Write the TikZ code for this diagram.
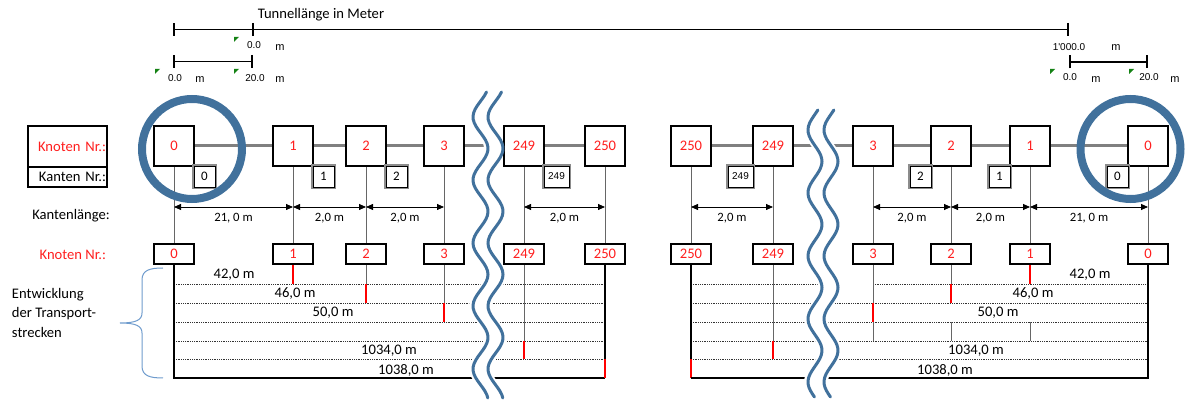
\documentclass[tikz,border=0pt]{standalone}
\usepackage{fontspec}
\setmainfont{Carlito}
\newfontfamily\arialf{Liberation Sans}
\usetikzlibrary{arrows.meta,calc}
\pgfdeclarelayer{bg}
\pgfdeclarelayer{band}
\pgfdeclarelayer{fg}
\pgfsetlayers{bg,band,main,fg}
\definecolor{ringblue}{RGB}{65,113,156}
\definecolor{bracecol}{RGB}{110,155,205}
\definecolor{kred}{RGB}{255,30,30}
\definecolor{mkgreen}{RGB}{20,130,20}
\definecolor{conngray}{RGB}{128,128,128}
\tikzset{
  big/.style={font=\fontsize{14.6}{17}\selectfont},
  knode/.style={draw=black, line width=1.6pt, fill=white, minimum width=40pt, minimum height=40pt, inner sep=0pt, text=kred, big},
  bnode/.style={knode, minimum height=20pt},
  ebox/.style={draw=black, line width=0.8pt, fill=white, minimum width=21pt, minimum height=21pt, inner sep=0pt, font=\fontsize{13}{15}\selectfont, preaction={draw=black!45, line width=4.5pt}},
  eboxw/.style={ebox, minimum width=25pt, font=\arialf\fontsize{10}{12}\selectfont},
  conn/.style={draw=conngray, line width=3pt},
  vline/.style={draw=black!60, line width=0.8pt},
  tbline/.style={draw=black, line width=1.8pt},
  redm/.style={draw=red, line width=1.6pt},
  dotl/.style={draw=black!80, line width=0.7pt, dash pattern=on 0.9pt off 0.9pt},
  dimarrow/.style={{Triangle[length=7pt,width=6pt]}-{Triangle[length=7pt,width=6pt]}, line width=0.8pt},
  dlbl/.style={font=\fontsize{12.7}{15}\selectfont},
  scalelbl/.style={font=\arialf\fontsize{10}{12}\selectfont},
  scalem/.style={font=\arialf\fontsize{11}{12}\selectfont},
  scalebar/.style={{Bar[width=13pt]}-{Bar[width=13pt]}, line width=1.7pt},
  bluering/.style={draw=ringblue, line width=8pt},
  waveline/.style={draw=ringblue, line width=3pt},
  greenmk/.style={fill=mkgreen},
  every node/.append style={inner sep=0pt, outer sep=0pt}
}
\begin{document}
\begin{tikzpicture}[x=1pt,y=-1pt]
\useasboundingbox (0,0) rectangle (1187,403);

% ---------- top scale ----------
\node[big] (title) at (321,15) {Tunnellänge in Meter};
\coordinate (s0) at (173,29.5);
\coordinate (s1) at (253,29.5);
\coordinate (s2) at (1069,29.5);
\coordinate (t0) at (173,61.5);
\coordinate (t1) at (253,61.5);
\coordinate (u0) at (1069,62);
\coordinate (u1) at (1148,62);
\draw[scalebar] (s0) -- (s2);
\draw[line width=1.7pt] (s1) ++(0,-6.5) -- ++(0,13);
\draw[scalebar] (t0) -- (t1);
\draw[scalebar] (u0) -- (u1);
\node[scalelbl] (l00) at (254,45) {0.0};
\node[scalem] (l00m) at (280,48) {m};
\node[scalelbl] (l1000) at (1069,47) {1'000.0};
\node[scalem] (l1000m) at (1116,48) {m};
\node[scalelbl] (la0) at (175,78) {0.0};
\node[scalem] (la0m) at (200,80) {m};
\node[scalelbl] (la20) at (255,78) {20.0};
\node[scalem] (la20m) at (280,80) {m};
\node[scalelbl] (lb0) at (1070,77) {0.0};
\node[scalem] (lb0m) at (1096,80) {m};
\node[scalelbl] (lb20) at (1149,77) {20.0};
\node[scalem] (lb20m) at (1175,80) {m};
\fill[greenmk] (234,37) -- ++(5,0) -- ++(-5,5) -- cycle;
\fill[greenmk] (155,69) -- ++(5,0) -- ++(-5,5) -- cycle;
\fill[greenmk] (234,69) -- ++(5,0) -- ++(-5,5) -- cycle;
\fill[greenmk] (1050,69) -- ++(5,0) -- ++(-5,5) -- cycle;
\fill[greenmk] (1129,69) -- ++(5,0) -- ++(-5,5) -- cycle;

% ---------- legend ----------
\node[draw, line width=1.6pt, minimum width=79pt, minimum height=41pt, text width=77pt, align=right, text=kred, big] (leg1) at (67.5,146.5) {Knoten Nr.:};
\node[draw, line width=1.6pt, minimum width=79pt, minimum height=20pt, text width=77pt, align=right, big, anchor=north] (leg2) at (leg1.south) {Kanten Nr.:};
\node[big] (klen) at (71,216) {Kantenlänge:};
\node[big, text=kred, anchor=east] (leg3) at (106,255) {Knoten Nr.:};
\node[big, anchor=west] (ent1) at (12,295) {Entwicklung};
\node[big, anchor=west] (ent2) at (12,314) {der Transport-};
\node[big, anchor=west] (ent3) at (12,332) {strecken};

% ---------- top nodes ----------
\node[knode] (L0) at (174,146) {0};
\node[knode] (L1) at (293,146) {1};
\node[knode] (L2) at (366,146) {2};
\node[knode] (L3) at (444,146) {3};
\node[knode] (L249) at (524,146) {249};
\node[knode] (L250) at (605,146) {250};
\node[knode] (R250) at (691,146) {250};
\node[knode] (R249) at (773,146) {249};
\node[knode] (R3) at (873,146) {3};
\node[knode] (R2) at (951,146) {2};
\node[knode] (R1) at (1030,146) {1};
\node[knode] (R0) at (1148,146) {0};

% ---------- edge numbers ----------
\node[ebox, anchor=north west] (E0) at (L0.south east) {0};
\node[ebox, anchor=north west] (E1) at (L1.south east) {1};
\node[ebox, anchor=north west] (E2) at (L2.south east) {2};
\node[eboxw, anchor=north west] (E249) at (L249.south east) {249};
\node[eboxw, anchor=north east] (F249) at (R249.south west) {249};
\node[ebox, anchor=north east] (F2) at (R2.south west) {2};
\node[ebox, anchor=north east] (F1) at (R1.south west) {1};
\node[ebox, anchor=north east] (F0) at (R0.south west) {0};

% ---------- bottom nodes ----------
\node[bnode] (BL0) at (174,254) {0};
\node[bnode] (BL1) at (293,254) {1};
\node[bnode] (BL2) at (366,254) {2};
\node[bnode] (BL3) at (444,254) {3};
\node[bnode] (BL249) at (524,254) {249};
\node[bnode] (BL250) at (605,254) {250};
\node[bnode] (BR250) at (691,254) {250};
\node[bnode] (BR249) at (773,254) {249};
\node[bnode] (BR3) at (873,254) {3};
\node[bnode] (BR2) at (951,254) {2};
\node[bnode] (BR1) at (1030,254) {1};
\node[bnode] (BR0) at (1148,254) {0};

% ---------- table labels ----------
\node[big] (a1) at (234,275) {42,0 m};
\node[big] (a2) at (295,294) {46,0 m};
\node[big] (a3) at (333,313) {50,0 m};
\node[big] (a5) at (389,351) {1034,0 m};
\node[big] (a6) at (406,370) {1038,0 m};
\node[big] (b1) at (1090,275) {42,0 m};
\node[big] (b2) at (1033,294) {46,0 m};
\node[big] (b3) at (998,313) {50,0 m};
\node[big] (b5) at (976,351) {1034,0 m};
\node[big] (b6) at (945,370) {1038,0 m};

\coordinate (dy) at (0,207);
\coordinate (y1) at (0,284);
\coordinate (y2) at (0,303);
\coordinate (y3) at (0,322);
\coordinate (y4) at (0,341);
\coordinate (y5) at (0,359.5);
\coordinate (y6) at (0,378);

\begin{pgfonlayer}{bg}
% connectors
\draw[conn] (L0) -- (L1) -- (L2) -- (L3) -- (L249) -- (L250);
\draw[conn] (R250) -- (R249) -- (R3) -- (R2) -- (R1) -- (R0);
% verticals
\foreach \n in {0,1,2,3,249,250} {\draw[vline] (L\n) -- (BL\n);}
\foreach \n in {0,1,2,3,249,250} {\draw[vline] (R\n) -- (BR\n);}
% dimension arrows
\draw[dimarrow] (L0 |- dy) -- (L1 |- dy) node[midway, yshift=-11pt, dlbl] {21, 0 m};
\draw[dimarrow] (L1 |- dy) -- (L2 |- dy) node[midway, yshift=-11pt, dlbl] {2,0 m};
\draw[dimarrow] (L2 |- dy) -- (L3 |- dy) node[midway, yshift=-11pt, dlbl] {2,0 m};
\draw[dimarrow] (L249 |- dy) -- (L250 |- dy) node[midway, yshift=-11pt, dlbl] {2,0 m};
\draw[dimarrow] (R250 |- dy) -- (R249 |- dy) node[midway, yshift=-11pt, dlbl] {2,0 m};
\draw[dimarrow] (R3 |- dy) -- (R2 |- dy) node[midway, yshift=-11pt, dlbl] {2,0 m};
\draw[dimarrow] (R2 |- dy) -- (R1 |- dy) node[midway, yshift=-11pt, dlbl] {2,0 m};
\draw[dimarrow] (R1 |- dy) -- (R0 |- dy) node[midway, yshift=-11pt, dlbl] {21, 0 m};
% left table
\foreach \r in {y1,y2,y3,y4,y5} {\draw[dotl] (BL0 |- \r) -- (BL250 |- \r);}
\draw[tbline] (BL0.south) -- (BL0 |- y6) -- (BL250 |- y6);
\draw[tbline] (BL250.south) -- (BL250 |- y5);
\draw[redm] (BL250 |- y5) -- (BL250 |- y6);
\draw[redm] (BL1.south) -- (BL1 |- y1);
\draw[vline] (BL2.south) -- (BL2 |- y1);
\draw[redm] (BL2 |- y1) -- (BL2 |- y2);
\draw[vline] (BL3.south) -- (BL3 |- y2);
\draw[redm] (BL3 |- y2) -- (BL3 |- y3);
\draw[vline] (BL249.south) -- (BL249 |- y4);
\draw[redm] (BL249 |- y4) -- (BL249 |- y5);
% right table
\draw[dotl] (BR250 |- y1) -- ++(130,0);
\draw[dotl] (BR3 |- y1) -- (BR0 |- y1);
\foreach \r in {y2,y3,y4,y5} {\draw[dotl] (BR250 |- \r) -- (BR0 |- \r);}
\draw[tbline] (BR250.south) -- (BR250 |- y5);
\draw[redm] (BR250 |- y5) -- (BR250 |- y6);
\draw[tbline] (BR250 |- y6) -- (BR0 |- y6) -- (BR0.south);
\draw[redm] (BR1.south) -- (BR1 |- y1);
\draw[vline] (BR1 |- y3) -- (BR1 |- y4);
\draw[vline] (BR2.south) -- (BR2 |- y1);
\draw[redm] (BR2 |- y1) -- (BR2 |- y2);
\draw[vline] (BR2 |- y3) -- (BR2 |- y4);
\draw[vline] (BR3.south) -- (BR3 |- y2);
\draw[redm] (BR3 |- y2) -- (BR3 |- y3);
\draw[vline] (BR3 |- y3) -- (BR3 |- y4);
\draw[vline] (BR249.south) -- (BR249 |- y4);
\draw[redm] (BR249 |- y4) -- (BR249 |- y5);
% brace
\draw[bracecol, line width=1pt] (163,268) .. controls (150,268) and (142,270) .. (142,280) -- (142,313) .. controls (142,320) and (136,323) .. (120,323) .. controls (136,323) and (142,326) .. (142,333) -- (142,366) .. controls (142,376) and (150,378) .. (163,378);
\end{pgfonlayer}

\begin{pgfonlayer}{band}
\fill[white] plot[variable=\t, domain=92:398, samples=90, smooth] ({476.5-7.5*cos(5.7142857*(\t-117))}, {\t}) -- plot[variable=\t, domain=398:92, samples=90, smooth] ({499.5-7.5*cos(5.7142857*(\t-117))}, {\t}) -- cycle;
\fill[white] plot[variable=\t, domain=110:397, samples=90, smooth] ({811-7*cos(5.7142857*(\t-130))}, {\t}) -- plot[variable=\t, domain=397:110, samples=90, smooth] ({835-7*cos(5.7142857*(\t-130))}, {\t}) -- cycle;
\end{pgfonlayer}

\begin{pgfonlayer}{fg}
\draw[bluering] (192,149) circle[radius=50];
\draw[bluering] (1130.5,149) circle[radius=50];
\draw[waveline, line cap=round] plot[variable=\t, domain=92:398, samples=90, smooth] ({480.5-7.5*cos(5.7142857*(\t-117))}, {\t});
\draw[waveline, line cap=round] plot[variable=\t, domain=92:398, samples=90, smooth] ({495.5-7.5*cos(5.7142857*(\t-117))}, {\t});
\draw[waveline, line cap=round] plot[variable=\t, domain=110:397, samples=90, smooth] ({815-7*cos(5.7142857*(\t-130))}, {\t});
\draw[waveline, line cap=round] plot[variable=\t, domain=110:397, samples=90, smooth] ({831-7*cos(5.7142857*(\t-130))}, {\t});
\end{pgfonlayer}
\end{tikzpicture}
\end{document}
